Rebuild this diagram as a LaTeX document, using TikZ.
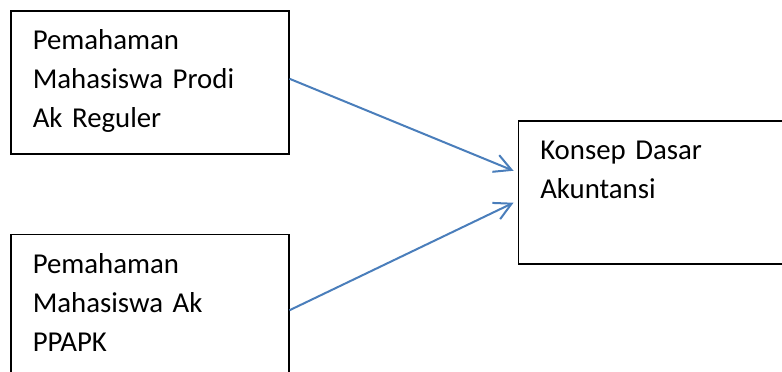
\documentclass[tikz,border=0pt]{standalone}
\usepackage{fontspec}
\setmainfont{Carlito}
\usepackage{xcolor}
\usepackage{tikz}
\usetikzlibrary{arrows.meta,positioning}

\definecolor{linkblue}{RGB}{74,126,187}

\begin{document}
\begin{tikzpicture}[node distance=79pt,>={Straight Barb[length=17pt,width=18pt]},
  box/.style={draw,line width=1.5pt,anchor=north west,align=left,inner xsep=22pt,inner ysep=0pt,
    text width=234pt,text height=39pt,text depth=104pt,font=\fontsize{28.8}{39}\selectfont},
  arr/.style={->,line width=2pt,linkblue}]
\clip (0,0) rectangle (782pt,-372pt);
\node[box] (reg) at (10pt,-10pt) {Pemahaman\\Mahasiswa Prodi\\Ak Reguler};
\node[box,below=of reg,text depth=113pt] (ppapk) {Pemahaman\\Mahasiswa Ak\\PPAPK};
\node[box,below right=110pt and 228pt of reg.north east,text width=256pt] (konsep) {Konsep Dasar\\Akuntansi};
% both links end a little short of the left side
\draw[arr] ([yshift=3.5pt]reg.east) -- ([xshift=-4pt,yshift=21.5pt]konsep.west);
\draw[arr] (ppapk.east) -- ([xshift=-4pt,yshift=-10.5pt]konsep.west);
\end{tikzpicture}
\end{document}
